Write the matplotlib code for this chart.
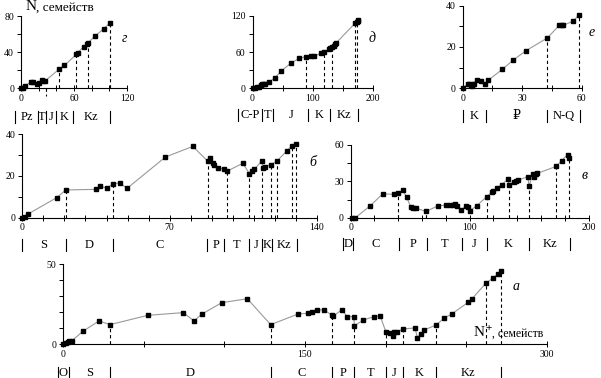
import numpy as np
import matplotlib
matplotlib.use('Agg')
import matplotlib.pyplot as plt
from matplotlib.ticker import FixedLocator

plt.rcParams['font.family'] = ['Liberation Serif', 'DejaVu Serif']
plt.rcParams['font.size'] = 7

# --- data (г, д, е, б, в, а) ---
g_x = [0, 1.9, 4.5, 10.9, 14, 17.7, 20.8, 24.2, 25.3, 27.5, 43.4, 49.1, 62.6, 64.2, 70.9, 75.1, 75.8, 84.2, 93.6, 100.8]
g_y = [0, 0.7, 2.6, 6.9, 6.6, 4.4, 5.9, 9.2, 8.1, 8.4, 21.3, 25.3, 37.4, 39.6, 45.9, 49.5, 50.3, 58, 66, 72.3]
g_dash = [43.4, 62.6, 75.8, 100.8]
g_bounds = [-6.5, 19.3, 28.3, 39.4, 58.7, 100.8]
g_names = ['Pz', 'T', 'J', 'K', 'Kz']

d_x = [1.1, 3.8, 7.7, 11, 14.8, 16.5, 19.2, 20.9, 26.9, 36.8, 47.8, 63.2, 77.5, 89, 96.2, 102.7, 113.7,
       119.2, 126.4, 129.1, 131.9, 134.6, 137.4, 139, 169.8, 172.5, 174.2, 175.3]
d_y = [0, 0.6, 1.7, 2.8, 5, 7.2, 6.6, 7.7, 9.9, 17.1, 28.6, 41.3, 49.5, 52.3, 52.8, 53.4, 57.8,
       60, 64.4, 66.6, 68.8, 70.4, 73.7, 75.4, 107.3, 110, 111.2, 112.8]
d_dash = [89, 119.2, 131.9, 169.8, 172.5]
d_bounds = [-24, 15.5, 34.7, 92, 128, 174.5]
d_names = ['C-P', 'T', 'J', 'K', 'Kz']

e_x = [0, 2.5, 3.4, 4, 4.5, 5, 5.7, 7.1, 9.2, 11.3, 13, 20, 25.5, 31.9, 42.7, 48.7, 49.9, 50.8, 55.8, 58.7]
e_y = [0, 2.1, 2.3, 1.8, 1.1, 1.9, 2.1, 4, 3.7, 2.1, 4, 9.2, 13.7, 18.2, 24.4, 30.5, 30.5, 30.5, 32.6, 35.6]
e_dash = [42.7, 58.7]
e_bounds = [0, 11.8, 42.4, 59.2]
e_names = ['K', '\u20bd', 'N-Q']

b_x = [0, 1.3, 2.8, 16.3, 20.7, 35.2, 37.1, 40.3, 43.1, 46.3, 49.8, 68, 81, 88, 89.4, 90.5, 91.3, 92.9,
       96, 97.2, 104.8, 107.9, 109, 110.3, 113.9, 114.2, 115.3, 118.2, 121, 125.7, 128, 130]
b_y = [0, 0.5, 1.8, 9.6, 13.3, 13.6, 15, 14.2, 16.3, 16.6, 14.1, 29.1, 34.2, 27.2, 28.4, 26.2, 25.2, 24,
       23.3, 22.3, 26.1, 21.1, 22.2, 23.3, 27.3, 24, 24.5, 25.4, 27.2, 32.1, 34.4, 35.5]
b_dash = [20.7, 43.1, 88, 97.2, 107.9, 113.9, 118.2, 121, 128, 130]
b_bounds = [0, 20.7, 43.1, 87.8, 96, 107.9, 113.9, 118.5, 130.5]
b_names = ['S', 'D', 'C', 'P', 'T', 'J', 'K', 'Kz']

v_x = [1, 4, 16, 27, 36, 40, 44, 47, 50.5, 52, 55, 63.5, 73.5, 80.5, 83.5, 86, 88, 89, 93, 97, 98.5, 100,
       106, 114.3, 118.5, 120, 123, 127, 132, 133.3, 137, 139, 141, 149, 150, 153.5, 154, 155.5, 157,
       173, 177.3, 182.4, 183.8]
v_y = [0, 0, 9.5, 19.7, 19.3, 20.7, 22.5, 16.8, 9.2, 7.8, 7.8, 5.2, 9.9, 10.3, 10.3, 10.3, 11.5, 10, 6.3,
       9.8, 8.5, 5.6, 9.9, 17.2, 21, 22, 24.5, 27.3, 31.7, 27.3, 29.5, 30.3, 31.1, 33.9, 26.2, 36.4, 33.3,
       36.1, 36.6, 42.4, 47.1, 52.1, 49.3]
v_dash = [40, 63.5, 114.3, 133.3, 150, 173, 183.8]
v_bounds = [-6.2, 2.2, 40.3, 63.9, 93.8, 114.3, 150.1, 184.3]
v_names = ['D', 'C', 'P', 'T', 'J', 'K', 'Kz']

a_x = [0, 1.4, 2.7, 3.7, 5.2, 12.4, 22.2, 29, 52.4, 74.5, 81.1, 85.9, 98.3, 114.2, 128.7, 145.9, 152.1,
       154.2, 157.7, 161.8, 166.6, 167.6, 172.8, 176.3, 180.4, 180.6, 186.2, 192.9, 196.6, 200.3, 202.8,
       204.8, 205.3, 206.9, 210.7, 218.3, 219.7, 221.9, 224.1, 231.4, 236.3, 241.1, 251.4, 253.5, 262.2,
       266.5, 269.7, 271.5]
a_y = [0, 0.6, 1.7, 2.1, 2.1, 8.3, 14.6, 12.3, 18.1, 19.8, 14.6, 18.8, 26, 28.5, 12.3, 19, 19.4, 20.4,
       21.5, 21.5, 18.3, 17.7, 21.5, 17.3, 17.3, 11.5, 15.2, 17.3, 17.9, 7.5, 6.9, 5.2, 7.5, 7.5, 9.6, 10.2,
       4.2, 6.3, 9, 12.1, 16.3, 19, 26.3, 28.3, 38.1, 41.3, 44, 46]
a_dash = [29, 128.7, 166.6, 180.6, 200.3, 210.7, 231.4, 262.2, 271.5]
a_bounds = [-3.5, 3.7, 29, 128.7, 166.6, 180.6, 200.3, 210.7, 231.4, 271.5]
a_names = ['O', 'S', 'D', 'C', 'P', 'T', 'J', 'K', 'Kz']

W, H = 601, 378
fig = plt.figure(figsize=(W / 100, H / 100), dpi=100)


def panel(px, py, xlim, ylim, xmaj, xmin, ymaj, ymin):
    # px: pixel x of xlim ends, py: pixel y of ylim ends (bottom, top)
    ax = fig.add_axes([px[0] / W, 1 - py[0] / H, (px[1] - px[0]) / W, (py[0] - py[1]) / H])
    ax.set_xlim(xlim)
    ax.set_ylim(ylim)
    ax.patch.set_alpha(0)
    for s in ('top', 'right'):
        ax.spines[s].set_visible(False)
    for s in ('left', 'bottom'):
        ax.spines[s].set_linewidth(0.8)
    ax.xaxis.set_major_locator(FixedLocator(xmaj))
    ax.xaxis.set_minor_locator(FixedLocator(xmin))
    ax.yaxis.set_major_locator(FixedLocator(ymaj))
    ax.yaxis.set_minor_locator(FixedLocator(ymin))
    ax.tick_params(axis='x', which='both', direction='inout', length=4, width=0.7, pad=2)
    ax.tick_params(axis='y', which='both', direction='out', length=3, width=0.7, pad=2)
    return ax


def draw(ax, x, y, dashes):
    x = np.asarray(x)
    y = np.asarray(y)
    ax.plot(x, y, color='0.6', lw=0.8, zorder=2, clip_on=False)
    ax.plot(x, y, 's', color='k', ms=2.2, zorder=3, clip_on=False)
    for d in dashes:
        i = np.argmin(np.abs(x - d))
        ax.plot([x[i], x[i]], [0, y[i]], color='k', lw=0.8, ls=(0, (3, 2.5)), zorder=1)


def periods(ax, bounds, names, off=27):
    hpx = ax.get_position().height * H
    yc = -off / hpx
    dy = 6 / hpx
    tr = ax.get_xaxis_transform()
    for b in bounds:
        ax.plot([b, b], [yc - dy, yc + dy], color='k', lw=0.8, transform=tr, clip_on=False)
    for a, b, n in zip(bounds[:-1], bounds[1:], names):
        ax.text((a + b) / 2, yc, n, transform=tr, ha='center', va='center', fontsize=9)


def tag(x, y, s):
    fig.text(x / W, 1 - y / H, s, style='italic', fontsize=10, ha='center', va='center')


# г
ax = panel((21, 127), (88.3, 16), (0, 120), (0, 80), [0, 60, 120], [20, 40, 80, 100], [0, 40, 80], [20, 60])
draw(ax, g_x, g_y, g_dash)
ax.plot([28.3, 28.3], [0, -9], color='k', lw=0.8, ls=(0, (3, 2.5)), clip_on=False)
periods(ax, g_bounds, g_names, off=28.4)
tag(124, 39, 'г')

# д
ax = panel((252.5, 373.2), (88.3, 15.7), (0, 200), (0, 120), [0, 100, 200], [50, 150], [0, 60, 120], [30, 90])
draw(ax, d_x, d_y, d_dash)
periods(ax, d_bounds, d_names, off=27)
tag(372, 38, 'д')

# е
ax = panel((462.7, 581.7), (88.3, 5.7), (0, 60), (0, 40), [0, 30, 60], [15, 45], [0, 20, 40], [10, 30])
draw(ax, e_x, e_y, e_dash)
periods(ax, e_bounds, e_names, off=28)
tag(592, 32, 'е')

# б
ax = panel((22.3, 317), (217.7, 134.3), (0, 140), (0, 40), [0, 70, 140],
           [10, 20, 30, 40, 50, 60, 80, 90, 100, 110, 120, 130], [0, 20, 40], [10, 30])
draw(ax, b_x, b_y, b_dash)
periods(ax, b_bounds, b_names, off=27)
tag(313, 163, 'б')

# в
ax = panel((350.7, 588.5), (217.7, 145), (0, 200), (0, 60), [0, 100, 200],
           [20, 40, 60, 80, 120, 140, 160, 180], [0, 30, 60], [15, 45])
draw(ax, v_x, v_y, v_dash)
periods(ax, v_bounds, v_names, off=26)
tag(585, 175, 'в')

# а
ax = panel((63.3, 546.7), (344.3, 264.3), (0, 300), (0, 50), [0, 150, 300],
           [50, 100, 200, 250], [0, 50], [10, 20, 30, 40])
draw(ax, a_x, a_y, a_dash)
periods(ax, a_bounds, a_names, off=28.5)
tag(516, 287, 'а')

# axis titles
fig.text(31.5 / W, 1 - 7 / H, 'N', fontsize=11, ha='center', va='center')
fig.text(36 / W, 1 - 8 / H, ', семейств', fontsize=9.5, ha='left', va='center')
fig.text(479 / W, 1 - 333 / H, 'N', fontsize=11, ha='center', va='center')
fig.text(489 / W, 1 - 328 / H, '+', fontsize=8, fontweight='bold', ha='center', va='center')
fig.text(492 / W, 1 - 334 / H, ', семейств', fontsize=8.5, ha='left', va='center')

fig.savefig('out.png', dpi=100)
